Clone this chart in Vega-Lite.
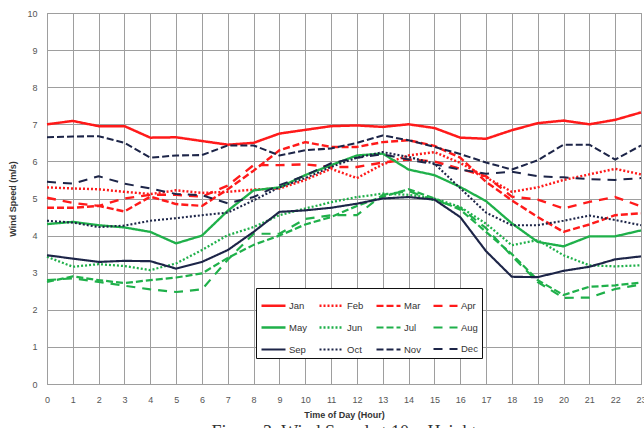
{
  "$schema": "https://vega.github.io/schema/vega-lite/v6.json",
  "width": 594,
  "height": 371,
  "autosize": {"type": "none"},
  "padding": {"left": 47, "top": 13, "right": 3, "bottom": 44},
  "background": "white",
  "title": {
    "text": "Figure 3: Wind Speed at 10m Height",
    "orient": "bottom",
    "anchor": "middle",
    "font": "Liberation Serif",
    "fontSize": 18,
    "fontWeight": "normal",
    "color": "#333",
    "offset": 5
  },
  "data": {
    "values": [
      {"h":0,"Jan":7.0,"Feb":5.3,"Mar":4.75,"Apr":5.02,"May":4.31,"Jun":3.43,"Jul":2.75,"Aug":2.8,"Sep":3.47,"Oct":4.4,"Nov":6.65,"Dec":5.45},
      {"h":1,"Jan":7.09,"Feb":5.27,"Mar":4.75,"Apr":4.88,"May":4.37,"Jun":3.16,"Jul":2.9,"Aug":2.85,"Sep":3.38,"Oct":4.35,"Nov":6.67,"Dec":5.4},
      {"h":2,"Jan":6.95,"Feb":5.25,"Mar":4.8,"Apr":4.8,"May":4.28,"Jun":3.23,"Jul":2.8,"Aug":2.75,"Sep":3.29,"Oct":4.23,"Nov":6.68,"Dec":5.6},
      {"h":3,"Jan":6.95,"Feb":5.18,"Mar":4.65,"Apr":5.0,"May":4.22,"Jun":3.18,"Jul":2.72,"Aug":2.65,"Sep":3.32,"Oct":4.27,"Nov":6.5,"Dec":5.4},
      {"h":4,"Jan":6.64,"Feb":5.12,"Mar":5.05,"Apr":5.1,"May":4.1,"Jun":3.07,"Jul":2.8,"Aug":2.55,"Sep":3.31,"Oct":4.4,"Nov":6.1,"Dec":5.27},
      {"h":5,"Jan":6.65,"Feb":5.22,"Mar":4.85,"Apr":5.1,"May":3.79,"Jun":3.25,"Jul":2.87,"Aug":2.48,"Sep":3.11,"Oct":4.47,"Nov":6.16,"Dec":5.12},
      {"h":6,"Jan":6.55,"Feb":5.15,"Mar":4.8,"Apr":5.05,"May":4.0,"Jun":3.61,"Jul":2.98,"Aug":2.55,"Sep":3.29,"Oct":4.55,"Nov":6.17,"Dec":5.09},
      {"h":7,"Jan":6.45,"Feb":5.18,"Mar":5.25,"Apr":5.35,"May":4.67,"Jun":4.01,"Jul":3.4,"Aug":3.35,"Sep":3.61,"Oct":4.62,"Nov":6.43,"Dec":4.87},
      {"h":8,"Jan":6.5,"Feb":5.24,"Mar":5.75,"Apr":5.9,"May":5.22,"Jun":4.23,"Jul":3.75,"Aug":4.05,"Sep":4.1,"Oct":4.95,"Nov":6.43,"Dec":5.04},
      {"h":9,"Jan":6.75,"Feb":5.27,"Mar":6.3,"Apr":5.9,"May":5.3,"Jun":4.55,"Jul":4.0,"Aug":4.05,"Sep":4.64,"Oct":5.3,"Nov":6.16,"Dec":5.36},
      {"h":10,"Jan":6.85,"Feb":5.5,"Mar":6.52,"Apr":5.92,"May":5.63,"Jun":4.73,"Jul":4.3,"Aug":4.45,"Sep":4.68,"Oct":5.55,"Nov":6.3,"Dec":5.62},
      {"h":11,"Jan":6.95,"Feb":5.8,"Mar":6.39,"Apr":5.85,"May":5.9,"Jun":4.9,"Jul":4.5,"Aug":4.55,"Sep":4.75,"Oct":5.85,"Nov":6.35,"Dec":5.95},
      {"h":12,"Jan":6.97,"Feb":5.55,"Mar":6.39,"Apr":5.85,"May":6.16,"Jun":5.04,"Jul":4.8,"Aug":4.55,"Sep":4.86,"Oct":6.1,"Nov":6.5,"Dec":6.1},
      {"h":13,"Jan":6.93,"Feb":5.92,"Mar":6.52,"Apr":5.97,"May":6.21,"Jun":5.13,"Jul":5.05,"Aug":5.1,"Sep":5.0,"Oct":6.25,"Nov":6.7,"Dec":6.19},
      {"h":14,"Jan":7.0,"Feb":6.16,"Mar":6.57,"Apr":6.05,"May":5.78,"Jun":5.1,"Jul":5.25,"Aug":5.2,"Sep":5.04,"Oct":6.12,"Nov":6.57,"Dec":6.05},
      {"h":15,"Jan":6.9,"Feb":6.25,"Mar":6.42,"Apr":6.0,"May":5.63,"Jun":5.0,"Jul":5.0,"Aug":4.95,"Sep":4.97,"Oct":5.94,"Nov":6.39,"Dec":5.92},
      {"h":16,"Jan":6.64,"Feb":5.96,"Mar":6.1,"Apr":5.8,"May":5.31,"Jun":4.77,"Jul":4.7,"Aug":4.75,"Sep":4.5,"Oct":5.28,"Nov":6.2,"Dec":5.78},
      {"h":17,"Jan":6.61,"Feb":5.57,"Mar":5.45,"Apr":5.6,"May":4.93,"Jun":4.32,"Jul":4.1,"Aug":4.2,"Sep":3.58,"Oct":4.62,"Nov":5.97,"Dec":5.67},
      {"h":18,"Jan":6.84,"Feb":5.18,"Mar":4.95,"Apr":5.05,"May":4.33,"Jun":3.74,"Jul":3.5,"Aug":3.45,"Sep":2.89,"Oct":4.28,"Nov":5.78,"Dec":5.72},
      {"h":19,"Jan":7.03,"Feb":5.3,"Mar":4.5,"Apr":4.97,"May":3.83,"Jun":3.88,"Jul":2.8,"Aug":2.75,"Sep":2.88,"Oct":4.28,"Nov":6.03,"Dec":5.6},
      {"h":20,"Jan":7.1,"Feb":5.5,"Mar":4.1,"Apr":4.73,"May":3.71,"Jun":3.47,"Jul":2.4,"Aug":2.32,"Sep":3.05,"Oct":4.4,"Nov":6.45,"Dec":5.57},
      {"h":21,"Jan":7.0,"Feb":5.65,"Mar":4.3,"Apr":4.91,"May":3.98,"Jun":3.2,"Jul":2.62,"Aug":2.33,"Sep":3.16,"Oct":4.54,"Nov":6.45,"Dec":5.52},
      {"h":22,"Jan":7.12,"Feb":5.8,"Mar":4.55,"Apr":5.04,"May":3.98,"Jun":3.17,"Jul":2.66,"Aug":2.56,"Sep":3.36,"Oct":4.42,"Nov":6.05,"Dec":5.5},
      {"h":23,"Jan":7.32,"Feb":5.65,"Mar":4.6,"Apr":4.79,"May":4.14,"Jun":3.2,"Jul":2.73,"Aug":2.68,"Sep":3.44,"Oct":4.28,"Nov":6.43,"Dec":5.55}
    ]
  },
  "transform": [
    {"fold": ["Jan","Feb","Mar","Apr","May","Jun","Jul","Aug","Sep","Oct","Nov","Dec"], "as": ["month","speed"]}
  ],
  "mark": {"type": "line", "strokeCap": "butt", "strokeJoin": "round"},
  "encoding": {
    "x": {
      "field": "h", "type": "quantitative",
      "scale": {"domain": [0, 23], "nice": false, "zero": false},
      "axis": {
        "title": "Time of Day (Hour)",
        "values": [0,1,2,3,4,5,6,7,8,9,10,11,12,13,14,15,16,17,18,19,20,21,22,23],
        "labelFlush": false,
        "labelOverlap": false,
        "tickSize": 0,
        "labelPadding": 11,
        "titlePadding": 6,
        "domain": false
      }
    },
    "y": {
      "field": "speed", "type": "quantitative",
      "scale": {"domain": [0, 10], "nice": false},
      "axis": {
        "title": "Wind Speed (m/s)",
        "values": [0,1,2,3,4,5,6,7,8,9,10],
        "tickSize": 0,
        "labelPadding": 10,
        "titlePadding": 9,
        "domain": false
      }
    },
    "color": {
      "field": "month", "type": "nominal",
      "sort": ["Jan","Feb","Mar","Apr","May","Jun","Jul","Aug","Sep","Oct","Nov","Dec"],
      "scale": {
        "domain": ["Jan","Feb","Mar","Apr","May","Jun","Jul","Aug","Sep","Oct","Nov","Dec"],
        "range": ["#ff1a1a","#ff1a1a","#ff1a1a","#ff1a1a","#1fb04a","#1fb04a","#1fb04a","#1fb04a","#1d2548","#1d2548","#1d2548","#1d2548"]
      },
      "legend": {"title": null}
    },
    "strokeDash": {
      "field": "month", "type": "nominal",
      "sort": ["Jan","Feb","Mar","Apr","May","Jun","Jul","Aug","Sep","Oct","Nov","Dec"],
      "scale": {
        "domain": ["Jan","Feb","Mar","Apr","May","Jun","Jul","Aug","Sep","Oct","Nov","Dec"],
        "range": [[1,0],[2,2],[7,3],[9,7],[1,0],[2,2],[7,3],[9,7],[1,0],[2,2],[7,3],[9,7]]
      },
      "legend": {"title": null}
    },
    "strokeWidth": {
      "field": "month", "type": "nominal",
      "scale": {
        "domain": ["Jan","Feb","Mar","Apr","May","Jun","Jul","Aug","Sep","Oct","Nov","Dec"],
        "range": [2.5,2,2.2,2.2,2.5,2,2.2,2.2,2.5,2,2.2,2.2]
      },
      "legend": null
    }
  },
  "config": {
    "font": "Liberation Sans",
    "view": {"stroke": "#8c8c8c", "strokeWidth": 1},
    "axis": {
      "grid": true,
      "gridColor": "#9e9e9e",
      "gridWidth": 1,
      "gridOpacity": 1,
      "labelFont": "Liberation Sans",
      "labelFontSize": 9,
      "labelColor": "#555",
      "titleFont": "Liberation Sans",
      "titleFontSize": 9,
      "titleFontWeight": "bold",
      "titleColor": "#333"
    },
    "legend": {
      "orient": "none",
      "legendX": 209,
      "legendY": 275,
      "direction": "horizontal",
      "columns": 4,
      "columnPadding": 7,
      "rowPadding": 3,
      "padding": 4,
      "strokeColor": "#111",
      "fillColor": "white",
      "symbolType": "stroke",
      "symbolSize": 576,
      "symbolStrokeWidth": 2.5,
      "labelFont": "Liberation Sans",
      "labelFontSize": 9.5,
      "labelColor": "#333",
      "labelOffset": 2
    }
  }
}
